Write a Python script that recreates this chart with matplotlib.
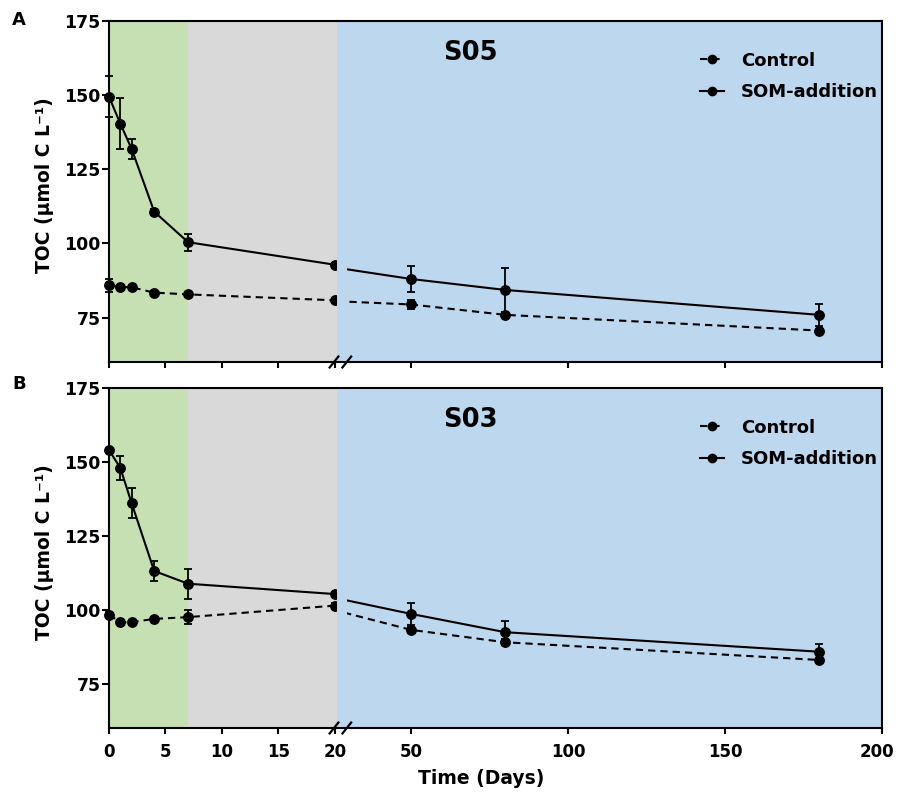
import matplotlib
matplotlib.use('Agg')
import matplotlib.pyplot as plt
from matplotlib.lines import Line2D
from matplotlib.patches import Rectangle
from matplotlib.transforms import ScaledTranslation

plt.rcParams['font.family'] = ['DejaVu Sans']
plt.rcParams['font.weight'] = 'bold'

# ---------------- data ----------------
days = [0, 1, 2, 4, 7, 20, 50, 80, 180]

a_ctrl = [85.8, 85.3, 85.2, 83.4, 82.8, 80.8, 79.4, 75.9, 70.6]
a_ctrl_err = [2.2, 0.5, 0.5, 0.5, 0.5, 0.5, 1.4, 0.5, 0.5]
a_som = [149.5, 140.4, 131.9, 110.7, 100.4, 92.8, 88.0, 84.3, 75.9]
a_som_err = [7.0, 8.6, 3.3, 1.0, 2.8, 0.5, 4.5, 7.5, 3.8]

b_ctrl = [98.3, 95.8, 95.8, 96.9, 97.5, 101.4, 93.2, 89.0, 83.0]
b_ctrl_err = [0.8, 0.5, 0.5, 0.5, 2.4, 0.8, 1.0, 1.0, 0.8]
b_som = [154.0, 148.0, 136.1, 113.1, 108.8, 105.3, 98.6, 92.4, 85.8]
b_som_err = [0.5, 4.1, 5.0, 3.5, 5.0, 0.5, 3.6, 3.7, 2.6]

panel_titles = ['S05', 'S03']
panel_letters = ['A', 'B']
series_labels = ['Control', 'SOM-addition']
yticks = [75, 100, 125, 150, 175]
xticks_left = [0, 5, 10, 15, 20]
xticks_right = [50, 100, 150, 200]

GREEN = '#C6E0B4'
GRAY = '#D9D9D9'
BLUE = '#BDD7EE'

W, H = 897, 795
fig = plt.figure(figsize=(W / 100, H / 100), dpi=100)


def px_axes(x0, x1, ytop, ybot):
    return fig.add_axes([x0 / W, 1 - ybot / H, (x1 - x0) / W, (ybot - ytop) / H])


panels = [
    dict(top=21, bot=362, ctrl=a_ctrl, ctrl_err=a_ctrl_err, som=a_som, som_err=a_som_err, letter_y=20),
    dict(top=388, bot=728, ctrl=b_ctrl, ctrl_err=b_ctrl_err, som=b_som, som_err=b_som_err, letter_y=384),
]

XL0, XBRK, XR1 = 109, 337, 882
LW = 1.5
MS = 6.8
DASH = (3.5, 2.4)

for i, p in enumerate(panels):
    axL = px_axes(XL0, XBRK, p['top'], p['bot'])
    axR = px_axes(XBRK, XR1, p['top'], p['bot'])

    axL.set_xlim(0, 20.18)
    axR.set_xlim(26.43, 200)
    for ax in (axL, axR):
        ax.set_ylim(60, 175)
        for s in ax.spines.values():
            s.set_linewidth(1.5)
        ax.tick_params(axis='x', direction='out', length=4.5, width=1.5,
                       labelsize=12, pad=6)
        ax.tick_params(axis='y', direction='out', length=5, width=1.5,
                       labelsize=12.5, pad=1)
    axL.spines['right'].set_visible(False)
    axR.spines['left'].set_visible(False)
    axR.tick_params(axis='y', left=False, labelleft=False)
    axL.set_yticks(yticks)
    axR.set_yticks([])
    axL.set_xticks(xticks_left)
    axR.set_xticks(xticks_right)
    if i == 0:
        axL.tick_params(axis='x', labelbottom=False)
        axR.tick_params(axis='x', labelbottom=False)
    else:
        last = axR.get_xticklabels()[-1]
        last.set_transform(last.get_transform() + ScaledTranslation(-5 / 100, 0, fig.dpi_scale_trans))

    axL.axvspan(0, 7, color=GREEN, lw=0, zorder=0)
    axL.axvspan(7, 20.18, color=GRAY, lw=0, zorder=0)
    axR.set_facecolor(BLUE)

    n_left = 6
    # left segment
    axL.errorbar(days[:n_left], p['ctrl'][:n_left], yerr=p['ctrl_err'][:n_left],
                 color='k', marker='o', ms=MS, lw=LW, ls='--', dashes=DASH,
                 elinewidth=1.3, capsize=3, capthick=1.3, clip_on=False, zorder=3)
    axL.errorbar(days[:n_left], p['som'][:n_left], yerr=p['som_err'][:n_left],
                 color='k', marker='o', ms=MS, lw=LW, ls='-',
                 elinewidth=1.3, capsize=3, capthick=1.3, clip_on=False, zorder=4)
    # right segment
    c1 = axR.errorbar(days, p['ctrl'], yerr=p['ctrl_err'],
                      color='k', marker='o', ms=MS, lw=LW, ls='--', dashes=DASH,
                      elinewidth=1.3, capsize=3, capthick=1.3, zorder=3)
    c2 = axR.errorbar(days, p['som'], yerr=p['som_err'],
                      color='k', marker='o', ms=MS, lw=LW, ls='-',
                      elinewidth=1.3, capsize=3, capthick=1.3, zorder=4)
    for c in (c1, c2):
        c.lines[0].set_clip_path(Rectangle((0.018, 0), 0.982, 1, transform=axR.transAxes))

    # break marks
    for off in (-0.0055, 0.018):
        axR.plot([off - 0.008, off + 0.008], [-0.016, 0.016], transform=axR.transAxes,
                 color='k', lw=1.6, clip_on=False, zorder=10)

    # title
    axR.text(0.244, 0.905, panel_titles[i], transform=axR.transAxes, ha='center',
             va='center', fontsize=18.5, fontweight='bold')

    # legend
    h_ctrl = Line2D([], [], color='k', marker='o', ms=MS - 0.8, lw=LW, ls='--', dashes=DASH)
    h_som = Line2D([], [], color='k', marker='o', ms=MS - 0.8, lw=LW, ls='-')
    axR.legend([h_ctrl, h_som], series_labels, loc='upper left',
               bbox_to_anchor=((700 - XBRK) / (XR1 - XBRK), 0.91), frameon=False,
               borderpad=0, borderaxespad=0, handlelength=1.35, handletextpad=0.9,
               labelspacing=0.75, fontsize=13)

    # y label
    yc = (p['top'] + p['bot']) / 2 - 6
    fig.text(45 / W, 1 - yc / H, 'TOC (μmol C L⁻¹)', rotation=90, ha='center',
             va='center', fontsize=13.5, fontweight='bold')
    # panel letter
    fig.text(12 / W, 1 - p['letter_y'] / H, panel_letters[i], ha='left', va='center',
             fontsize=13, fontweight='bold')

fig.text(481 / W, 1 - 779 / H, 'Time (Days)', ha='center', va='center',
         fontsize=13.5, fontweight='bold')

fig.savefig('out.png', dpi=100)
